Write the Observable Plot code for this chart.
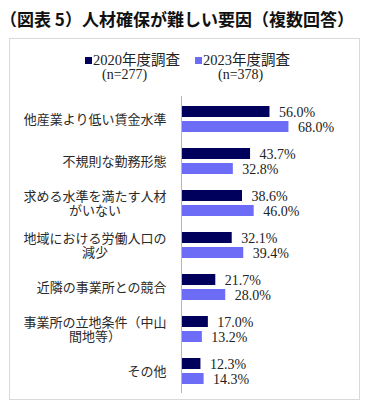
<!DOCTYPE html>
<html><head><meta charset="utf-8">
<script src="https://cdn.jsdelivr.net/npm/d3@7"></script>
<script src="https://cdn.jsdelivr.net/npm/@observablehq/plot@0.6"></script>
<style>
body{margin:0;width:375px;height:408px;position:relative;background:#fff;overflow:hidden;font-family:"Noto Sans CJK JP",sans-serif;}
#title{position:absolute;left:0px;top:9px;font-size:17px;font-weight:700;line-height:20px;white-space:nowrap;color:#111;}
#box{position:absolute;left:9px;top:38px;width:349px;height:360px;border:1px solid #d9d9d9;}
.leg{position:absolute;font-family:"Liberation Serif","Noto Sans CJK JP",serif;font-size:14px;color:#222;line-height:16px;white-space:nowrap;}
.sw{position:absolute;width:7px;height:7px;}
#chart{position:absolute;left:0;top:90px;}
</style></head>
<body>
<div id="title">（図表 5）人材確保が難しい要因（複数回答）</div>
<div id="box"></div>
<div id="legend"></div>
<div id="chart"></div>
<script>
const categories = [
  "他産業より低い賃金水準",
  "不規則な勤務形態",
  "求める水準を満たす人材\nがいない",
  "地域における労働人口の\n減少",
  "近隣の事業所との競合",
  "事業所の立地条件（中山\n間地等）",
  "その他"
];
const seriesNames = ["2020年度調査", "2023年度調査"];
const seriesN = ["(n=277)", "(n=378)"];
const values2020 = [56.0, 43.7, 38.6, 32.1, 21.7, 17.0, 12.3];
const values2023 = [68.0, 32.8, 46.0, 39.4, 28.0, 13.2, 14.3];
const colors = ["#00005c", "#6c6cf6"];

// legend (HTML)
const legPos = [{sx:85, tx:93, nx:102}, {sx:195, tx:203, nx:218}];
const legend = document.getElementById("legend");
seriesNames.forEach((s, i) => {
  const p = legPos[i];
  legend.insertAdjacentHTML("beforeend",
    `<div class="sw" style="left:${p.sx}px;top:57px;background:${colors[i]}"></div>` +
    `<div class="leg" style="left:${p.tx}px;top:52px;font-size:14.5px">${s}</div>` +
    `<div class="leg" style="left:${p.nx}px;top:67px">${seriesN[i]}</div>`);
});

const rows2020 = categories.map((c, i) => ({cat: c, v: values2020[i]}));
const rows2023 = categories.map((c, i) => ({cat: c, v: values2023[i]}));

const fmt = d => d.v.toFixed(1) + "%";
const labelFont = {fontFamily: '"Noto Sans CJK JP", sans-serif', fontSize: 13, fill: "#2a2a2a"};

const single = categories.filter(c => !c.includes("\n"));
const multi = categories.filter(c => c.includes("\n"));

const labelMarks = [
  Plot.text(single, {x: () => 0, y: d => d, text: d => d, textAnchor: "end", dx: -15, ...labelFont}),
  Plot.text(multi, {x: () => 0, y: d => d, text: d => d.split("\n")[0], textAnchor: "end", dx: -15, dy: -7, ...labelFont}),
  ...multi.map(c => {
    const [l1, l2] = c.split("\n");
    return Plot.text([c], {x: () => 0, y: d => d, text: () => l2, textAnchor: "middle",
      dx: -15 - (l1.length * 13) / 2, dy: 7.5, ...labelFont});
  })
];

const chart = Plot.plot({
  width: 375, height: 310,
  marginLeft: 181, marginRight: 36, marginTop: 14, marginBottom: 15,
  x: {domain: [0, 100], axis: null},
  y: {domain: categories, axis: null, paddingInner: 0.388, paddingOuter: 0},
  style: {fontFamily: '"Liberation Serif", serif', fontSize: "14px", background: "transparent"},
  marks: [
    Plot.barX(rows2020, {x: "v", y: "cat", fill: colors[0], insetBottom: 15}),
    Plot.barX(rows2023, {x: "v", y: "cat", fill: colors[1], insetTop: 15}),
    Plot.ruleX([0], {stroke: "#b5b5b5", insetTop: -8, insetBottom: -8}),
    Plot.text(rows2020, {x: "v", y: "cat", text: fmt, textAnchor: "start", dx: 9, dy: -6.5, fill: "#222", fontSize: 14}),
    Plot.text(rows2023, {x: "v", y: "cat", text: fmt, textAnchor: "start", dx: 9, dy: 8.5, fill: "#222", fontSize: 14}),
    ...labelMarks
  ]
});
document.getElementById("chart").appendChild(chart);
</script>
</body></html>
